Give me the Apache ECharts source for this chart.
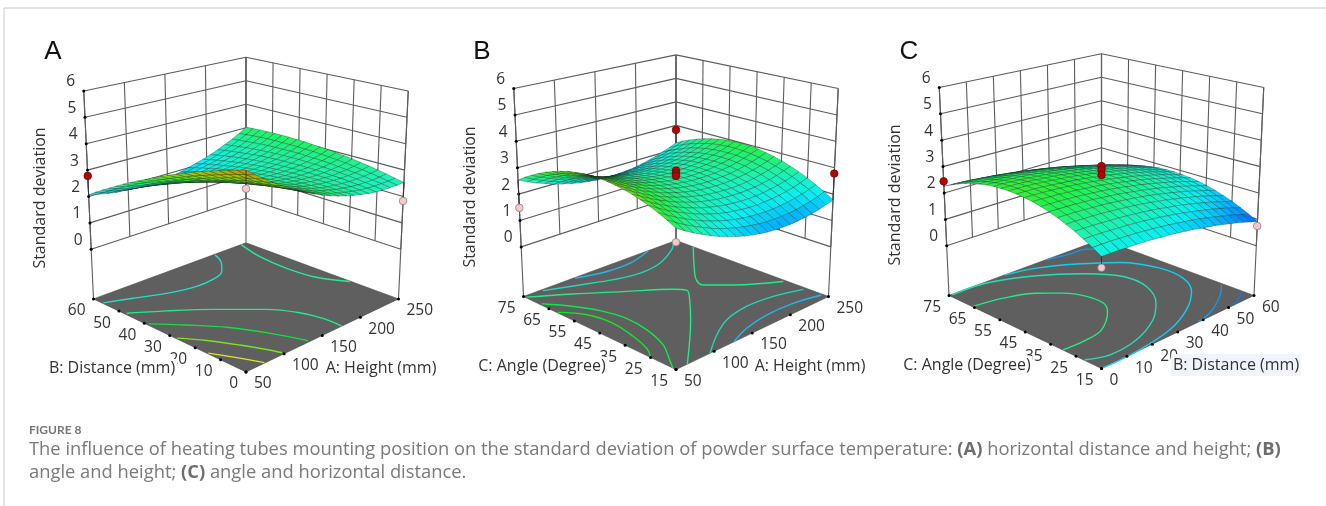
<!DOCTYPE html>
<html>
<head>
<meta charset="utf-8">
<title>Figure 8</title>
<style>
  html, body { margin: 0; background: #fff; }
  #chart { width: 1326px; height: 506px; }
</style>
<script src="https://cdn.jsdelivr.net/npm/echarts@6/dist/echarts.min.js"></script>
</head>
<body>
<div id="chart"></div>
<script>
// tick labels of the three factors and of the response
var zTicks = [0, 1, 2, 3, 4, 5, 6];
var heightTicks = [50, 100, 150, 200, 250];
var distanceTicks = [0, 10, 20, 30, 40, 50, 60];
var angleTicks = [15, 25, 35, 45, 55, 65, 75];

// standard deviation; rows follow the second factor, columns the first
var surfaceA = [
  [4.90,4.66,4.43,4.21,4.01,3.82,3.65,3.49,3.34,3.20,3.08,2.97,2.88,2.80,2.73,2.67,2.63,2.61,2.59,2.59,2.60],
  [4.81,4.57,4.35,4.15,3.95,3.77,3.61,3.45,3.31,3.18,3.07,2.97,2.88,2.81,2.75,2.70,2.67,2.65,2.65,2.65,2.67],
  [4.71,4.49,4.27,4.07,3.89,3.72,3.56,3.41,3.28,3.16,3.05,2.96,2.89,2.82,2.77,2.73,2.70,2.69,2.69,2.71,2.74],
  [4.61,4.39,4.19,4.00,3.82,3.66,3.50,3.37,3.24,3.13,3.03,2.95,2.88,2.82,2.78,2.75,2.73,2.73,2.74,2.76,2.80],
  [4.50,4.29,4.10,3.91,3.75,3.59,3.45,3.32,3.20,3.10,3.01,2.93,2.87,2.82,2.79,2.77,2.76,2.76,2.78,2.81,2.86],
  [4.39,4.19,4.00,3.83,3.67,3.52,3.38,3.26,3.15,3.06,2.98,2.91,2.86,2.82,2.79,2.78,2.77,2.79,2.81,2.85,2.91],
  [4.28,4.08,3.90,3.73,3.59,3.44,3.32,3.20,3.10,3.02,2.94,2.88,2.84,2.81,2.79,2.78,2.79,2.81,2.84,2.89,2.96],
  [4.15,3.97,3.79,3.64,3.50,3.36,3.24,3.14,3.05,2.97,2.90,2.85,2.82,2.79,2.78,2.78,2.80,2.82,2.87,2.92,3.00],
  [4.03,3.85,3.68,3.53,3.40,3.28,3.17,3.07,2.98,2.91,2.86,2.81,2.79,2.77,2.77,2.78,2.80,2.84,2.89,2.95,3.03],
  [3.90,3.73,3.57,3.43,3.31,3.19,3.09,3.00,2.92,2.86,2.81,2.77,2.76,2.75,2.75,2.77,2.80,2.84,2.90,2.97,3.07],
  [3.76,3.60,3.45,3.31,3.20,3.09,3.00,2.92,2.85,2.79,2.75,2.72,2.72,2.72,2.73,2.75,2.79,2.85,2.91,2.99,3.09],
  [3.62,3.47,3.32,3.20,3.09,2.99,2.91,2.83,2.77,2.72,2.69,2.67,2.68,2.68,2.70,2.74,2.78,2.84,2.92,3.00,3.11],
  [3.47,3.33,3.19,3.08,2.98,2.89,2.81,2.74,2.69,2.65,2.63,2.61,2.63,2.64,2.67,2.71,2.77,2.83,2.92,3.01,3.13],
  [3.32,3.18,3.06,2.95,2.86,2.78,2.71,2.65,2.60,2.57,2.56,2.55,2.57,2.60,2.63,2.68,2.75,2.82,2.91,3.01,3.14],
  [3.17,3.04,2.92,2.82,2.74,2.66,2.60,2.55,2.51,2.49,2.48,2.49,2.52,2.55,2.59,2.65,2.72,2.80,2.90,3.01,3.15],
  [3.01,2.88,2.78,2.68,2.61,2.54,2.49,2.45,2.42,2.40,2.40,2.41,2.45,2.49,2.55,2.61,2.69,2.78,2.89,3.01,3.15],
  [2.84,2.73,2.63,2.54,2.48,2.42,2.37,2.34,2.32,2.31,2.32,2.34,2.39,2.43,2.49,2.57,2.65,2.75,2.87,3.00,3.15],
  [2.67,2.56,2.47,2.39,2.34,2.29,2.25,2.23,2.21,2.21,2.23,2.26,2.31,2.37,2.44,2.52,2.61,2.72,2.84,2.98,3.14],
  [2.50,2.40,2.31,2.24,2.20,2.16,2.13,2.11,2.10,2.11,2.13,2.17,2.24,2.30,2.38,2.47,2.57,2.68,2.81,2.96,3.13],
  [2.32,2.23,2.15,2.09,2.05,2.02,1.99,1.98,1.99,2.00,2.04,2.08,2.16,2.23,2.31,2.41,2.52,2.64,2.78,2.93,3.11],
  [2.13,2.05,1.98,1.92,1.90,1.87,1.86,1.86,1.87,1.89,1.93,1.98,2.07,2.15,2.24,2.34,2.46,2.60,2.74,2.90,3.09]
];
var surfaceB = [
  [2.92,2.72,2.54,2.38,2.22,2.09,1.97,1.86,1.77,1.69,1.63,1.58,1.55,1.54,1.53,1.55,1.58,1.62,1.68,1.75,1.84],
  [3.09,2.89,2.71,2.55,2.40,2.26,2.14,2.04,1.95,1.88,1.82,1.77,1.74,1.73,1.73,1.74,1.77,1.82,1.88,1.96,2.05],
  [3.23,3.04,2.86,2.70,2.55,2.42,2.30,2.20,2.11,2.04,1.98,1.94,1.91,1.90,1.90,1.92,1.95,2.00,2.06,2.14,2.23],
  [3.36,3.17,2.99,2.83,2.69,2.56,2.44,2.34,2.25,2.18,2.13,2.09,2.06,2.05,2.06,2.08,2.11,2.16,2.22,2.30,2.40],
  [3.46,3.28,3.10,2.94,2.80,2.67,2.56,2.46,2.38,2.31,2.25,2.22,2.19,2.18,2.19,2.21,2.25,2.30,2.37,2.45,2.54],
  [3.55,3.37,3.20,3.04,2.90,2.77,2.66,2.56,2.48,2.42,2.36,2.33,2.31,2.30,2.31,2.33,2.37,2.42,2.49,2.58,2.67],
  [3.62,3.44,3.27,3.11,2.97,2.85,2.74,2.65,2.57,2.50,2.45,2.42,2.40,2.39,2.40,2.43,2.47,2.53,2.60,2.68,2.78],
  [3.67,3.49,3.32,3.17,3.03,2.91,2.80,2.71,2.63,2.57,2.52,2.49,2.47,2.47,2.48,2.51,2.55,2.61,2.68,2.77,2.87],
  [3.70,3.52,3.36,3.21,3.07,2.95,2.85,2.76,2.68,2.62,2.57,2.54,2.53,2.53,2.54,2.57,2.62,2.68,2.75,2.84,2.94],
  [3.72,3.54,3.38,3.23,3.09,2.98,2.87,2.78,2.71,2.65,2.61,2.58,2.57,2.57,2.58,2.62,2.66,2.72,2.80,2.89,3.00],
  [3.71,3.53,3.37,3.23,3.09,2.98,2.88,2.79,2.72,2.66,2.62,2.59,2.58,2.59,2.60,2.64,2.69,2.75,2.83,2.92,3.03],
  [3.69,3.51,3.35,3.21,3.08,2.96,2.86,2.78,2.71,2.66,2.62,2.59,2.58,2.59,2.61,2.64,2.69,2.76,2.84,2.94,3.05],
  [3.64,3.47,3.31,3.17,3.04,2.93,2.83,2.75,2.68,2.63,2.59,2.57,2.56,2.57,2.59,2.63,2.68,2.75,2.83,2.93,3.04],
  [3.58,3.41,3.25,3.11,2.99,2.88,2.78,2.70,2.63,2.58,2.55,2.53,2.52,2.53,2.56,2.60,2.65,2.72,2.80,2.90,3.02],
  [3.49,3.33,3.17,3.03,2.91,2.80,2.71,2.63,2.57,2.52,2.48,2.47,2.46,2.47,2.50,2.54,2.60,2.67,2.76,2.86,2.97],
  [3.39,3.23,3.08,2.94,2.82,2.71,2.62,2.54,2.48,2.44,2.40,2.39,2.39,2.40,2.43,2.47,2.53,2.60,2.69,2.80,2.91],
  [3.27,3.11,2.96,2.82,2.70,2.60,2.51,2.44,2.38,2.33,2.30,2.29,2.29,2.30,2.33,2.38,2.44,2.52,2.61,2.71,2.83],
  [3.13,2.97,2.82,2.69,2.57,2.47,2.38,2.31,2.25,2.21,2.18,2.17,2.17,2.19,2.22,2.27,2.33,2.41,2.50,2.61,2.73],
  [2.97,2.81,2.67,2.54,2.42,2.32,2.24,2.17,2.11,2.07,2.04,2.03,2.04,2.06,2.09,2.14,2.21,2.29,2.38,2.49,2.61],
  [2.80,2.64,2.49,2.37,2.25,2.15,2.07,2.00,1.95,1.91,1.89,1.88,1.88,1.91,1.94,1.99,2.06,2.14,2.24,2.35,2.48],
  [2.60,2.44,2.30,2.18,2.06,1.97,1.89,1.82,1.77,1.73,1.71,1.70,1.71,1.74,1.77,1.83,1.90,1.98,2.08,2.19,2.32]
];
var surfaceC = [
  [1.93,1.93,1.92,1.90,1.89,1.86,1.84,1.80,1.77,1.73,1.68,1.63,1.57,1.51,1.45,1.38,1.30,1.23,1.14,1.05,0.96],
  [2.12,2.12,2.11,2.09,2.07,2.05,2.02,1.99,1.95,1.91,1.86,1.81,1.76,1.70,1.63,1.56,1.48,1.41,1.32,1.23,1.14],
  [2.29,2.29,2.28,2.26,2.24,2.22,2.19,2.16,2.12,2.08,2.03,1.98,1.92,1.86,1.79,1.72,1.65,1.57,1.48,1.39,1.30],
  [2.45,2.44,2.43,2.41,2.39,2.37,2.34,2.31,2.27,2.23,2.18,2.12,2.07,2.01,1.94,1.87,1.79,1.71,1.62,1.53,1.44],
  [2.58,2.58,2.56,2.55,2.53,2.50,2.47,2.44,2.40,2.36,2.31,2.25,2.20,2.13,2.07,1.99,1.92,1.84,1.75,1.66,1.56],
  [2.70,2.69,2.68,2.66,2.64,2.62,2.59,2.55,2.51,2.47,2.42,2.37,2.31,2.24,2.18,2.10,2.03,1.94,1.86,1.77,1.67],
  [2.80,2.79,2.78,2.76,2.74,2.72,2.68,2.65,2.61,2.56,2.51,2.46,2.40,2.34,2.27,2.19,2.12,2.03,1.95,1.85,1.76],
  [2.88,2.87,2.86,2.84,2.82,2.79,2.76,2.73,2.69,2.64,2.59,2.53,2.48,2.41,2.34,2.27,2.19,2.11,2.02,1.92,1.83],
  [2.95,2.94,2.92,2.91,2.88,2.86,2.82,2.79,2.75,2.70,2.65,2.59,2.53,2.47,2.40,2.32,2.24,2.16,2.07,1.98,1.88],
  [2.99,2.98,2.97,2.95,2.93,2.90,2.87,2.83,2.79,2.74,2.69,2.63,2.57,2.51,2.44,2.36,2.28,2.20,2.11,2.01,1.91],
  [3.02,3.01,3.00,2.98,2.95,2.92,2.89,2.85,2.81,2.76,2.71,2.65,2.59,2.53,2.46,2.38,2.30,2.21,2.12,2.03,1.93],
  [3.03,3.02,3.01,2.99,2.96,2.93,2.90,2.86,2.82,2.77,2.72,2.66,2.60,2.53,2.46,2.38,2.30,2.21,2.12,2.03,1.93],
  [3.02,3.01,3.00,2.98,2.95,2.92,2.89,2.85,2.80,2.75,2.70,2.64,2.58,2.51,2.44,2.36,2.28,2.20,2.10,2.01,1.91],
  [3.00,2.99,2.97,2.95,2.92,2.89,2.86,2.82,2.77,2.72,2.67,2.61,2.55,2.48,2.41,2.33,2.25,2.16,2.07,1.97,1.87],
  [2.96,2.94,2.93,2.90,2.88,2.85,2.81,2.77,2.73,2.68,2.62,2.56,2.50,2.43,2.36,2.28,2.20,2.11,2.02,1.92,1.82],
  [2.89,2.88,2.86,2.84,2.81,2.78,2.75,2.71,2.66,2.61,2.55,2.49,2.43,2.36,2.29,2.21,2.12,2.04,1.94,1.85,1.74],
  [2.82,2.80,2.78,2.76,2.73,2.70,2.66,2.62,2.58,2.53,2.47,2.41,2.34,2.27,2.20,2.12,2.04,1.95,1.85,1.76,1.65],
  [2.72,2.70,2.69,2.66,2.63,2.60,2.56,2.52,2.47,2.42,2.37,2.31,2.24,2.17,2.09,2.01,1.93,1.84,1.75,1.65,1.54],
  [2.60,2.59,2.57,2.55,2.52,2.48,2.44,2.40,2.36,2.30,2.25,2.18,2.12,2.05,1.97,1.89,1.80,1.71,1.62,1.52,1.42],
  [2.47,2.46,2.44,2.41,2.38,2.35,2.31,2.27,2.22,2.16,2.11,2.04,1.98,1.91,1.83,1.75,1.66,1.57,1.48,1.38,1.27],
  [2.32,2.30,2.28,2.26,2.23,2.19,2.15,2.11,2.06,2.01,1.95,1.89,1.82,1.75,1.67,1.59,1.50,1.41,1.32,1.22,1.11]
];

// contour lines on the floor, in axis units of the two factors
var contoursA = [
  [[51,56],[77,52.5],[106,48.5],[137,46],[160,46.4],[179,48.8],[193,53.3],[204,59.6]],
  [[243,60],[233,48.9],[230,36.9],[234,26.2],[249,17.3]],
  [[52,46.2],[81,39.7],[115,30.8],[147,21.2],[163,13.4],[169,6.6],[169,0]],
  [[52,37],[74,29.4],[96,20.9],[113,11.3],[127,0.6]],
  [[51,25.4],[66,19],[80,11.2],[90,4.7],[95,0.7]],
  [[51,13.6],[61,7.6],[72,0.2]]
];
var contoursB = [
  [[111,74.6],[143,71.8],[174,71.6],[209,74.8]],
  [[71,74.3],[104,70],[135,66],[164,64],[195,65.3],[228,70.3],[241,73.5]],
  [[51,74.1],[86,66.6],[123,57.8],[160,49],[167,45.7],[156,41.5],[124,31.7],[63,15]],
  [[52,67.6],[69,60.1],[80,53],[86,44.5],[83,35.6],[73,26.5],[58,19.6],[50,16.1]],
  [[51,60.2],[66,53.6],[71,44.7],[66,35.3],[59,28.1],[51,24.2]],
  [[250,67.4],[213,56.3],[191,49],[187,45.1],[207,39.1],[247,30.5]],
  [[90,15],[119,20.8],[147,25],[180,26.8],[214,25.9],[246,23]],
  [[120,15.1],[147,17.9],[179,19.4],[215,19.1],[248,17]]
];
var contoursC = [
  [[0.2,64.6],[9.5,62.9],[18.2,58.9],[23.5,53.7],[26.6,47.5],[26.8,41.1],[23.8,36.5],[14.8,29.8],[8.1,28.5],[0.1,28.7]],
  [[0.9,74.7],[12.8,74.2],[26.3,68],[36.9,59.5],[43.7,49.9],[43.3,40.3],[37,30.9],[28.7,24.4],[17.1,19.5],[6.5,18.5],[0.3,21.1]],
  [[20.3,75],[30.1,72.2],[40.6,66.1],[50.6,57.8],[55.9,46.5],[55.1,36.8],[49.7,29],[39.7,22.2],[27.4,17.3],[11.8,15],[0.4,15]],
  [[36.5,74.9],[44.5,73.1],[50.9,72.5],[56,67.4]],
  [[59.3,26],[52.7,21.3],[42.5,16.4],[36.4,15.3]],
  [[59.8,18.9],[55,16.6],[50.9,15]]
];
var contourColorsA = ['#22e0c4', '#22ec98', '#20ec88', '#10e040', '#78e420', '#e4e420'];
var contourColorsB = ['#20b8ec', '#20d8b8', '#20ec88', '#10e848', '#10e828', '#20ec88', '#20d8b8', '#20b8ec'];
var contourColorsC = ['#20ec88', '#20e0b8', '#10d0f0', '#1098f0', '#1098f0', '#1078f0'];

// design points [first factor, second factor, response, above surface 1 / below 0]
var pointsA = [[50,60,2.85,1],[50,0,4.3,0],[250,0,1.89,0]];
var pointsB = [[150,45,2.96,1],[150,45,2.86,1],[150,45,2.76,1],[250,75,2.87,1],[250,15,2.85,1],[50,75,1.53,0],[50,15,2.45,0]];
var pointsC = [[30,45,3.09,1],[30,45,2.94,1],[30,45,2.75,1],[0,75,2.51,1],[60,15,0.78,0],[0,15,1.55,0]];

var panels = [
  {cx: 246, cy: 176, shift: -0.25, uTicks: heightTicks, vTicks: distanceTicks, surface: surfaceA, contours: contoursA, colors: contourColorsA, points: pointsA},
  {cx: 676, cy: 173.6, shift: -0.05, uTicks: heightTicks, vTicks: angleTicks, surface: surfaceB, contours: contoursB, colors: contourColorsB, points: pointsB},
  {cx: 1101.5, cy: 172.5, shift: 0.1, uTicks: distanceTicks, vTicks: angleTicks, surface: surfaceC, contours: contoursC, colors: contourColorsC, points: pointsC}
];

// camera of the 3D box, seen over its front corner
var focal = 1100, camDist = 9.83, camSin = 0.31, camCos = 0.951;
var zBase = -0.704, zUnit = 0.2473, zFloor = -2, zTop = 6;

function project(u, v, z) {
  var X = 2 * u - 1, Y = 2 * v - 1;
  var r = (X - Y) / Math.SQRT2, h = (X + Y) / Math.SQRT2;
  var Z = zBase + zUnit * z;
  var yc = Z * camCos + h * camSin;
  var zc = camDist + h * camCos - Z * camSin;
  return [focal * r / zc, focal * yc / zc, zc];
}

// the ticks and wall lines of the box are evenly spaced between its corners
function planePoint(u, v, z) {
  var a = project(0, 0, z), b = project(1, 0, z), c = project(1, 1, z), d = project(0, 1, z);
  return [0, 1].map(function (k) {
    return (1 - u) * (1 - v) * a[k] + u * (1 - v) * b[k] + u * v * c[k] + (1 - u) * v * d[k];
  });
}
function boxPoint(u, v, z) {
  var lo = planePoint(u, v, 0), hi = planePoint(u, v, zTop), t = z / zTop;
  return [lo[0] + (hi[0] - lo[0]) * t, lo[1] + (hi[1] - lo[1]) * t];
}

var colorStops = [
  [0.9, [0, 64, 255]], [1.5, [0, 168, 255]], [2, [10, 240, 240]], [2.5, [30, 242, 170]],
  [3, [35, 242, 70]], [3.5, [110, 225, 20]], [4, [175, 195, 0]], [4.5, [195, 150, 0]], [5, [190, 120, 0]]
];
function surfaceColor(z) {
  for (var i = 1; i < colorStops.length; i++) {
    if (z <= colorStops[i][0]) {
      var a = colorStops[i - 1], b = colorStops[i];
      var t = Math.max(0, (z - a[0]) / (b[0] - a[0]));
      return 'rgb(' + [0, 1, 2].map(function (k) { return Math.round(a[1][k] + (b[1][k] - a[1][k]) * t); }).join(',') + ')';
    }
  }
  return 'rgb(190,120,0)';
}

function layer(grid, items, z, draw) {
  return {
    type: 'custom', coordinateSystem: 'cartesian2d', xAxisIndex: grid, yAxisIndex: grid,
    clip: false, silent: true, animation: false, progressive: 0, z: z,
    data: items.map(function () { return [0, 0]; }),
    renderItem: function (params, api) { return draw(items[params.dataIndex], api); }
  };
}

var labelFont = '15.5px "Open Sans"', titleFont = '16px "Open Sans"';
var series = [], grids = [], xAxes = [], yAxes = [];

panels.forEach(function (p, g) {
  grids.push({left: p.cx - 200, width: 400, top: p.cy - 150, height: 360});
  xAxes.push({type: 'value', gridIndex: g, min: -200, max: 200, show: false});
  yAxes.push({type: 'value', gridIndex: g, min: -210, max: 150, show: false});

  var uMin = p.uTicks[0], uMax = p.uTicks[p.uTicks.length - 1];
  var vMin = p.vTicks[0], vMax = p.vTicks[p.vTicks.length - 1];
  var uOf = function (a) { return (a - uMin) / (uMax - uMin); };
  var vOf = function (b) { return (b - vMin) / (vMax - vMin); };

  // floor
  series.push(layer(g, [[[0,0],[1,0],[1,1],[0,1]]], 1, function (q, api) {
    return {type: 'polygon', shape: {points: q.map(function (c) { return api.coord(project(c[0], c[1], zFloor)); })},
      style: {fill: '#5f5f5f', stroke: '#444', lineWidth: 0.6}};
  }));

  // wall grid
  var segs = [];
  p.uTicks.forEach(function (a) { segs.push([boxPoint(uOf(a), 1, 0), boxPoint(uOf(a), 1, zTop)]); });
  p.vTicks.forEach(function (b) { segs.push([boxPoint(1, vOf(b), 0), boxPoint(1, vOf(b), zTop)]); });
  zTicks.forEach(function (z) {
    segs.push([boxPoint(0, 1, z), boxPoint(1, 1, z)]);
    segs.push([boxPoint(1, 1, z), boxPoint(1, 0, z)]);
  });
  [[0, 1], [1, 1], [1, 0]].forEach(function (c) { segs.push([project(c[0], c[1], zFloor), project(c[0], c[1], zTop)]); });
  series.push(layer(g, segs, 2, function (s, api) {
    var a = api.coord(s[0]), b = api.coord(s[1]);
    return {type: 'line', shape: {x1: a[0], y1: a[1], x2: b[0], y2: b[1]}, style: {stroke: '#5c5c5c', lineWidth: 1.1}};
  }));

  // contours on the floor
  p.contours.forEach(function (line, k) {
    series.push({
      type: 'line', xAxisIndex: g, yAxisIndex: g, symbol: 'none', smooth: 0.35, clip: false, silent: true, animation: false, z: 3,
      lineStyle: {color: p.colors[k], width: 1.4},
      data: line.map(function (c) { return project(uOf(c[0]), vOf(c[1]), zFloor).slice(0, 2); })
    });
  });

  // surface quads, far ones first
  var quads = [];
  for (var j = 0; j < 20; j++) {
    for (var i = 0; i < 20; i++) {
      var corners = [[i, j], [i + 1, j], [i + 1, j + 1], [i, j + 1]].map(function (c) {
        return project(c[0] / 20, c[1] / 20, p.surface[c[1]][c[0]]);
      });
      var zs = p.surface[j][i] + p.surface[j][i + 1] + p.surface[j + 1][i + 1] + p.surface[j + 1][i];
      quads.push({corners: corners, value: zs / 4, depth: (corners[0][2] + corners[1][2] + corners[2][2] + corners[3][2]) / 4});
    }
  }
  quads.sort(function (a, b) { return b.depth - a.depth; });
  series.push(layer(g, quads, 4, function (q, api) {
    return {type: 'polygon', shape: {points: q.corners.map(function (c) { return api.coord(c); })},
      style: {fill: surfaceColor(q.value + p.shift), stroke: 'rgba(15,30,25,0.58)', lineWidth: 0.5}};
  }));

  // design points with their stems
  series.push(layer(g, p.points, 6, function (d, api) {
    var u = uOf(d[0]), v = vOf(d[1]);
    var c = api.coord(project(u, v, d[2]));
    var s = api.coord(project(u, v, p.surface[Math.round(v * 20)][Math.round(u * 20)]));
    return {type: 'group', children: [
      {type: 'line', shape: {x1: c[0], y1: c[1], x2: s[0], y2: s[1]}, style: {stroke: '#333', lineWidth: 1}},
      {type: 'circle', shape: {cx: c[0], cy: c[1], r: 3.8}, style: {fill: d[3] ? '#b00808' : '#f8c8c8', stroke: d[3] ? '#6a0000' : '#777', lineWidth: 0.7}}
    ]};
  }));

  // tick dots and tick labels
  var ticks = [];
  zTicks.forEach(function (z) { ticks.push({at: boxPoint(0, 1, z), text: String(z), dx: -13, dy: -9, align: 'center'}); });
  p.vTicks.forEach(function (b) { ticks.push({at: planePoint(0, vOf(b), zFloor), text: String(b), dx: -8, dy: 12, align: 'right'}); });
  p.uTicks.forEach(function (a) { ticks.push({at: planePoint(uOf(a), 0, zFloor), text: String(a), dx: 8, dy: 12, align: 'left'}); });
  series.push(layer(g, ticks, 5, function (t, api) {
    var c = api.coord(t.at);
    return {type: 'group', children: [
      {type: 'circle', shape: {cx: c[0], cy: c[1], r: 1.5}, style: {fill: '#000'}},
      {type: 'text', x: c[0] + t.dx, y: c[1] + t.dy, style: {text: t.text, font: labelFont, fill: '#333', align: t.align, verticalAlign: 'middle'}}
    ]};
  }));
});

// text outside the plots
function note(x, y, text, font, extra) {
  var style = {text: text, font: font, fill: '#333', align: 'center', verticalAlign: 'middle'};
  for (var k in extra) { style[k] = extra[k]; }
  return {type: 'text', x: x, y: y, z: 100, style: style};
}
function vertical(x, y, text) {
  var el = note(0, 0, text, titleFont);
  el.x = x; el.y = y; el.rotation = Math.PI / 2;
  return el;
}
var capNormal = '18.35px "Open Sans"', capBold = 'bold 18.35px "Open Sans"';
var graphics = [
  {type: 'line', z: 100, shape: {x1: 4, y1: 8, x2: 1326, y2: 8}, style: {stroke: '#c8c8c8', lineWidth: 1}},
  {type: 'line', z: 100, shape: {x1: 4, y1: 8, x2: 4, y2: 506}, style: {stroke: '#c8c8c8', lineWidth: 1}},
  note(53, 52, 'A', '26px "Liberation Sans"', {fill: '#111'}),
  note(482, 52, 'B', '26px "Liberation Sans"', {fill: '#111'}),
  note(909, 52, 'C', '26px "Liberation Sans"', {fill: '#111'}),
  vertical(40, 198, 'Standard deviation'),
  vertical(470, 197, 'Standard deviation'),
  vertical(895, 195, 'Standard deviation'),
  note(112, 368, 'B: Distance (mm)', titleFont, {backgroundColor: '#fff', padding: [1, 2]}),
  note(381, 368, 'A: Height (mm)', titleFont, {backgroundColor: '#fff', padding: [1, 2]}),
  note(542, 366, 'C: Angle (Degree)', titleFont, {backgroundColor: '#fff', padding: [1, 2]}),
  note(810, 366, 'A: Height (mm)', titleFont, {backgroundColor: '#fff', padding: [1, 2]}),
  note(967, 365, 'C: Angle (Degree)', titleFont, {backgroundColor: '#fff', padding: [1, 2]}),
  note(1236, 365, 'B: Distance (mm)', titleFont, {backgroundColor: '#f1f4fa', padding: [3, 2]}),
  {type: 'text', x: 29, y: 430, z: 100, style: {text: 'FIGURE 8', font: 'bold 12px Lato', fill: '#777', verticalAlign: 'middle'}},
  {type: 'text', x: 29, y: 450, z: 100, style: {
    text: '{n|The influence of heating tubes mounting position on the standard deviation of powder surface temperature: }{b|(A)}{n| horizontal distance and height; }{b|(B)}',
    verticalAlign: 'middle', rich: {n: {font: capNormal, fill: '#7a7a7a'}, b: {font: capBold, fill: '#6e6e6e'}}}},
  {type: 'text', x: 29, y: 473, z: 100, style: {
    text: '{n|angle and height; }{b|(C)}{n| angle and horizontal distance.}',
    verticalAlign: 'middle', rich: {n: {font: capNormal, fill: '#7a7a7a'}, b: {font: capBold, fill: '#6e6e6e'}}}}
];

var chart = echarts.init(document.getElementById('chart'));
chart.setOption({
  backgroundColor: '#fff',
  animation: false,
  grid: grids,
  xAxis: xAxes,
  yAxis: yAxes,
  series: series,
  graphic: {elements: graphics}
});
</script>
</body>
</html>
